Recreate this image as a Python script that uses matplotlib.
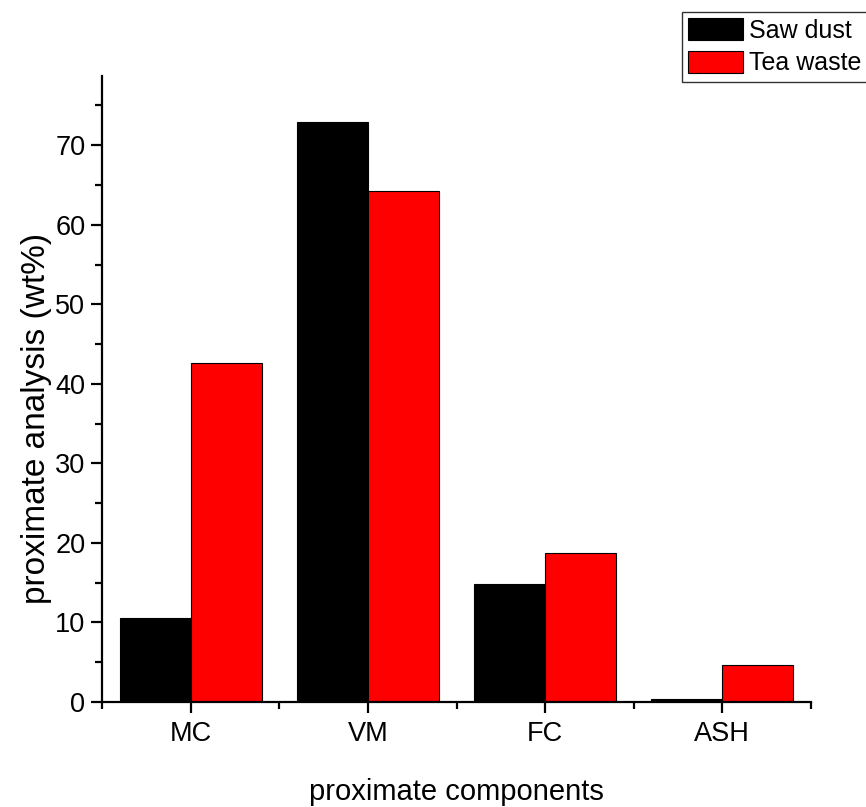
import matplotlib.pyplot as plt
import numpy as np
from matplotlib.ticker import MultipleLocator, FixedLocator

plt.rcParams['font.family'] = ['Liberation Sans', 'DejaVu Sans']

# data
components = ["MC", "VM", "FC", "ASH"]
saw_dust = [10.6, 72.9, 14.8, 0.35]
tea_waste = [42.6, 64.2, 18.7, 4.6]

x = np.arange(1, len(components) + 1)
w = 0.4

fig = plt.figure(figsize=(8.66, 8.07), dpi=100)
ax = fig.add_axes([0.1178, 0.1301, 0.8187, 0.7757])

ax.bar(x - w / 2, saw_dust, w, color="black", edgecolor="black", linewidth=0.8, label="Saw dust")
ax.bar(x + w / 2, tea_waste, w, color="red", edgecolor="black", linewidth=0.8, label="Tea waste")

ax.set_xlim(0.5, 4.5)
ax.set_ylim(0, 78.7)
ax.set_xticks(x)
ax.set_xticklabels(components)
ax.xaxis.set_minor_locator(FixedLocator([0.5, 1.5, 2.5, 3.5, 4.5]))
ax.yaxis.set_major_locator(MultipleLocator(10))
ax.yaxis.set_minor_locator(MultipleLocator(5))

for s in ["top", "right"]:
    ax.spines[s].set_visible(False)
for s in ["left", "bottom"]:
    ax.spines[s].set_linewidth(1.6)

ax.tick_params(which="major", direction="out", length=8, width=1.6, labelsize=19.5, pad=4)
ax.tick_params(which="minor", direction="out", length=5, width=1.6)
ax.tick_params(axis="x", which="major", pad=6)

ax.set_xlabel("proximate components", fontsize=21, va="baseline")
ax.xaxis.set_label_coords(0.5, -0.1565)
ax.set_ylabel("proximate analysis (wt%)", fontsize=24)
ax.yaxis.set_label_coords(-0.0705, 0.4537)

leg = fig.legend(loc="upper left", bbox_to_anchor=(682 / 866, 1 - 12 / 807),
                 fontsize=18, frameon=True, fancybox=False, borderaxespad=0,
                 handlelength=2.2, handleheight=1.0, handletextpad=0.24,
                 labelspacing=0.32, borderpad=0.24)
leg.get_frame().set_edgecolor("black")
leg.get_frame().set_linewidth(1.0)

fig.savefig("out.png", dpi=100)
